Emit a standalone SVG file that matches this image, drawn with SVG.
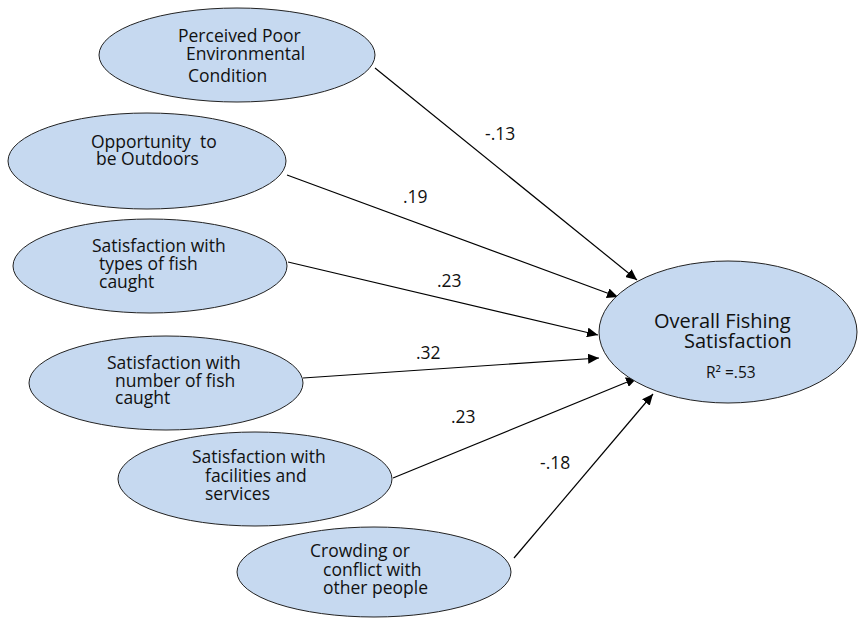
<svg xmlns="http://www.w3.org/2000/svg" width="858" height="618" viewBox="0 0 858 618">
<defs>
<style>
.n{fill:#C6D9F0;stroke:#222;stroke-width:1}
.t{font-family:"Open Sans","Noto Sans","Liberation Sans",sans-serif;font-size:17.5px;fill:#111}
.big{font-size:20px}
.sm{font-size:15.5px}
.c{stroke:#000;stroke-width:1.2;fill:none;marker-end:url(#ah)}
</style>
<marker id="ah" markerUnits="userSpaceOnUse" markerWidth="12" markerHeight="10" refX="11" refY="5" orient="auto">
<path d="M0,0 L11,5 L0,10 Z" fill="#000"/>
</marker>
</defs>
<rect width="858" height="618" fill="#fff"/>
<g id="connectors">
<line class="c" x1="375" y1="68" x2="637" y2="280"/>
<line class="c" x1="287" y1="175" x2="618" y2="297"/>
<line class="c" x1="288" y1="262" x2="598" y2="335"/>
<line class="c" x1="303" y1="378" x2="599" y2="358"/>
<line class="c" x1="393" y1="478" x2="637" y2="378"/>
<line class="c" x1="514" y1="558" x2="653" y2="394"/>
<g class="t">
<text x="485" y="140">-.13</text>
<text x="403" y="203">.19</text>
<text x="437" y="287">.23</text>
<text x="416" y="359">.32</text>
<text x="451" y="423">.23</text>
<text x="540" y="469">-.18</text>
</g>
</g>
<g id="node-perceived">
<ellipse class="n" cx="237" cy="55" rx="138" ry="47"/>
<text class="t" x="178" y="42">Perceived Poor</text>
<text class="t" x="186" y="60">Environmental</text>
<text class="t" x="188" y="82">Condition</text>
</g>
<g id="node-outdoors">
<ellipse class="n" cx="147" cy="161" rx="139" ry="48"/>
<text class="t" x="91" y="148" xml:space="preserve">Opportunity  to</text>
<text class="t" x="96" y="165">be Outdoors</text>
</g>
<g id="node-types">
<ellipse class="n" cx="150" cy="266" rx="137" ry="47"/>
<text class="t" x="92" y="252">Satisfaction with</text>
<text class="t" x="99" y="270">types of fish</text>
<text class="t" x="99" y="288">caught</text>
</g>
<g id="node-number">
<ellipse class="n" cx="166" cy="383" rx="137" ry="47"/>
<text class="t" x="107" y="369">Satisfaction with</text>
<text class="t" x="115" y="387">number of fish</text>
<text class="t" x="115" y="404">caught</text>
</g>
<g id="node-facilities">
<ellipse class="n" cx="255" cy="479" rx="137" ry="47"/>
<text class="t" x="192" y="463">Satisfaction with</text>
<text class="t" x="205" y="482">facilities and</text>
<text class="t" x="205" y="500">services</text>
</g>
<g id="node-crowding">
<ellipse class="n" cx="374" cy="572" rx="137" ry="45"/>
<text class="t" x="310" y="557">Crowding or</text>
<text class="t" x="323" y="576">conflict with</text>
<text class="t" x="323" y="594">other people</text>
</g>
<g id="node-overall">
<ellipse class="n" cx="728" cy="332" rx="129" ry="71"/>
<text class="t big" x="654" y="328">Overall Fishing</text>
<text class="t big" x="684" y="348">Satisfaction</text>
<text class="t sm" x="706" y="378">R² =.53</text>
</g>
</svg>
